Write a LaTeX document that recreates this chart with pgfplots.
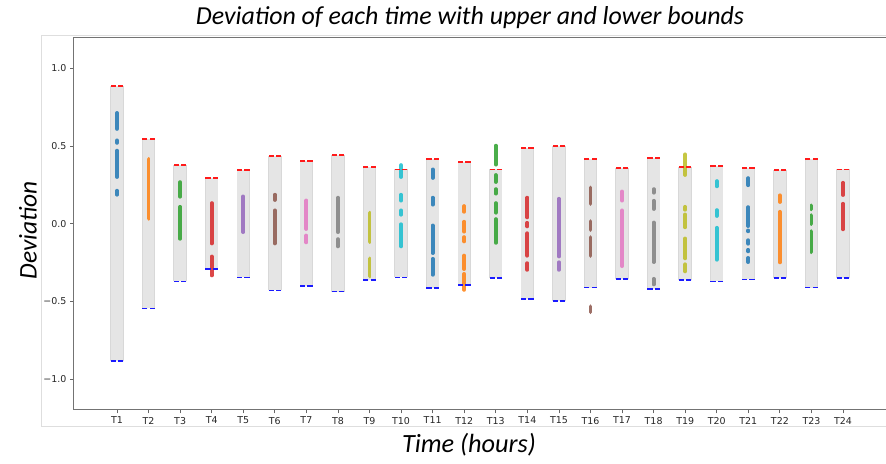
\documentclass[border=0pt]{standalone}
\usepackage{pgfplots}
\pgfplotsset{compat=1.18}
\usepackage{pgfplotstable}
\usepackage{fontspec}
\newfontfamily\carl{Carlito}
\newfontfamily\dv{DejaVu Sans}

\definecolor{c0}{HTML}{1F77B4}
\definecolor{c1}{HTML}{FF7F0E}
\definecolor{c2}{HTML}{2CA02C}
\definecolor{c3}{HTML}{D62728}
\definecolor{c4}{HTML}{9467BD}
\definecolor{c5}{HTML}{8C564B}
\definecolor{c6}{HTML}{E377C2}
\definecolor{c7}{HTML}{7F7F7F}
\definecolor{c8}{HTML}{BCBD22}
\definecolor{c9}{HTML}{17BECF}
\definecolor{barc}{HTML}{E5E5E5}
\definecolor{baredge}{HTML}{D8D8D8}
\definecolor{framec}{HTML}{DEDEDE}
\definecolor{upc}{HTML}{FF1A1A}
\definecolor{loc}{HTML}{1A1AFF}

% lower and upper bound of each hour (T1 = 0)
\pgfplotstableread{
x  lo      hi
0  -0.884  0.886
1  -0.546  0.548
2  -0.372  0.376
3  -0.290  0.295
4  -0.346  0.346
5  -0.430  0.434
6  -0.400  0.404
7  -0.437  0.441
8  -0.361  0.363
9  -0.346  0.350
10 -0.413  0.415
11 -0.396  0.398
12 -0.350  0.350
13 -0.484  0.486
14 -0.497  0.499
15 -0.411  0.415
16 -0.355  0.357
17 -0.421  0.424
18 -0.361  0.366
19 -0.372  0.374
20 -0.359  0.361
21 -0.348  0.348
22 -0.411  0.415
23 -0.348  0.350
}\bounds

\pgfplotsset{
  seg/.style={line width=3.8bp, line cap=round, opacity=0.85},
  bound/.style={only marks, mark=-, mark size=2.6bp,
    mark options={line width=1.8bp, solid}},
}

\begin{document}
\begin{tikzpicture}[x=1bp, y=1bp]
  \useasboundingbox (0,0) rectangle (886,464);
  \clip (0,0) rectangle (886,464);
  \draw[framec, line width=0.9bp] (886,37.3) -- (41,37.3) -- (41,428.7) -- (886,428.7);
  \begin{axis}[
      at={(73.5bp,54bp)}, anchor=south west, scale only axis,
      width=813bp, height=372.5bp,
      xmin=-1.378, xmax=24.378, ymin=-1.2, ymax=1.2,
      xtick={0,...,23},
      xticklabel={T\pgfmathparse{int(\tick+1)}\pgfmathresult},
      ytick={-1,-0.5,0,0.5,1},
      yticklabels={−1.0,−0.5,0.0,0.5,1.0},
      xtick pos=bottom, ytick pos=left,
      tick align=outside, major tick length=3.5bp,
      tick style={black!60, line width=0.8bp},
      axis line style={black!55, line width=1bp},
      tick label style={font=\dv\fontsize{9.5}{11}\selectfont, text=black!85},
      unbounded coords=jump,
    ]
    % grey bound bars
    \addplot[quiver={u=0, v=\thisrow{hi}-\thisrow{lo}}, draw=baredge, line width=13.4bp]
      table[x=x, y=lo] {\bounds};
    \addplot[quiver={u=0, v=\thisrow{hi}-\thisrow{lo}}, draw=barc, line width=11.8bp]
      table[x=x, y=lo] {\bounds};
    % upper (red) and lower (blue) bounds, drawn as two short dashes
    \addplot[bound, upc] table[x expr=\thisrow{x}-0.117, y=hi] {\bounds};
    \addplot[bound, upc] table[x expr=\thisrow{x}+0.117, y=hi] {\bounds};
    \addplot[bound, loc] table[x expr=\thisrow{x}-0.117, y=lo] {\bounds};
    \addplot[bound, loc] table[x expr=\thisrow{x}+0.117, y=lo] {\bounds};
    % deviations
    \addplot[c0, seg] coordinates {(0,0.714) (0,0.611) (0,nan) (0,0.537) (0,0.521) (0,nan) (0,0.471) (0,0.301) (0,nan) (0,0.213) (0,0.187)};
    \addplot[c1, seg] coordinates {(1,0.417) (1,0.032)};
    \addplot[c2, seg] coordinates {(2,0.268) (2,0.174) (2,nan) (2,0.109) (2,-0.097)};
    \addplot[c3, seg] coordinates {(3,0.133) (3,-0.127) (3,nan) (3,-0.211) (3,-0.333)};
    \addplot[c4, seg] coordinates {(4,0.176) (4,-0.054)};
    \addplot[c5, seg] coordinates {(5,0.187) (5,0.153) (5,nan) (5,0.086) (5,-0.127)};
    \addplot[c6, seg] coordinates {(6,0.150) (6,-0.034) (6,nan) (6,-0.076) (6,-0.120)};
    \addplot[c7, seg] coordinates {(7,0.168) (7,-0.054) (7,nan) (7,-0.099) (7,-0.146)};
    \addplot[c8, seg] coordinates {(8,0.071) (8,-0.118) (8,nan) (8,-0.224) (8,-0.339)};
    \addplot[c9, seg] coordinates {(9,0.378) (9,0.301) (9,nan) (9,0.187) (9,0.149) (9,nan) (9,0.086) (9,0.058) (9,nan) (9,-0.003) (9,-0.146)};
    \addplot[c0, seg] coordinates {(10,0.350) (10,0.295) (10,nan) (10,0.168) (10,0.123) (10,nan) (10,-0.011) (10,-0.189) (10,nan) (10,-0.226) (10,-0.329)};
    \addplot[c1, seg] coordinates {(11,0.114) (11,0.077) (11,nan) (11,0.013) (11,-0.051) (11,nan) (11,-0.086) (11,-0.114) (11,nan) (11,-0.205) (11,-0.292) (11,nan) (11,-0.323) (11,-0.426)};
    \addplot[c2, seg] coordinates {(12,0.503) (12,0.381) (12,nan) (12,0.314) (12,0.269) (12,nan) (12,0.223) (12,0.194) (12,nan) (12,0.133) (12,0.071) (12,nan) (12,0.030) (12,-0.123)};
    \addplot[c3, seg] coordinates {(13,0.168) (13,0.041) (13,nan) (13,0.006) (13,-0.017) (13,nan) (13,-0.061) (13,-0.206) (13,nan) (13,-0.254) (13,-0.297)};
    \addplot[c4, seg] coordinates {(14,0.161) (14,-0.211) (14,nan) (14,-0.248) (14,-0.297)};
    \addplot[c5, seg] coordinates {(15,0.234) (15,0.127) (15,nan) (15,0.017) (15,-0.041) (15,nan) (15,-0.086) (15,-0.208) (15,nan) (15,-0.532) (15,-0.570)};
    \addplot[c6, seg] coordinates {(16,0.208) (16,0.149) (16,nan) (16,0.086) (16,-0.273)};
    \addplot[c7, seg] coordinates {(17,0.223) (17,0.200) (17,nan) (17,0.148) (17,0.095) (17,nan) (17,0.008) (17,-0.247) (17,nan) (17,-0.355) (17,-0.391)};
    \addplot[c8, seg] coordinates {(18,0.447) (18,0.314) (18,nan) (18,0.109) (18,0.090) (18,nan) (18,0.060) (18,-0.023) (18,nan) (18,-0.095) (18,-0.223) (18,nan) (18,-0.261) (18,-0.307)};
    \addplot[c9, seg] coordinates {(19,0.275) (19,0.241) (19,nan) (19,0.088) (19,0.050) (19,nan) (19,-0.026) (19,-0.232)};
    \addplot[c0, seg] coordinates {(20,0.294) (20,0.248) (20,nan) (20,0.107) (20,-0.015) (20,nan) (20,-0.043) (20,-0.049) (20,nan) (20,-0.106) (20,-0.129) (20,nan) (20,-0.168) (20,-0.178) (20,nan) (20,-0.220) (20,-0.247)};
    \addplot[c1, seg] coordinates {(21,0.183) (21,0.140) (21,nan) (21,0.077) (21,-0.249)};
    \addplot[c2, seg] coordinates {(22,0.118) (22,0.093) (22,nan) (22,0.055) (22,-0.002) (22,nan) (22,-0.048) (22,-0.183)};
    \addplot[c3, seg] coordinates {(23,0.264) (23,0.185) (23,nan) (23,0.129) (23,-0.036)};
  \end{axis}
  \node[font=\carl\itshape\fontsize{26}{30}\selectfont] at (470,446) {Deviation of each time with upper and lower bounds};
  \node[rotate=90, font=\carl\itshape\fontsize{25.5}{28}\selectfont] at (28,234) {Deviation};
  \node[font=\carl\itshape\fontsize{26.4}{30}\selectfont] at (469,19) {Time (hours)};
\end{tikzpicture}
\end{document}
